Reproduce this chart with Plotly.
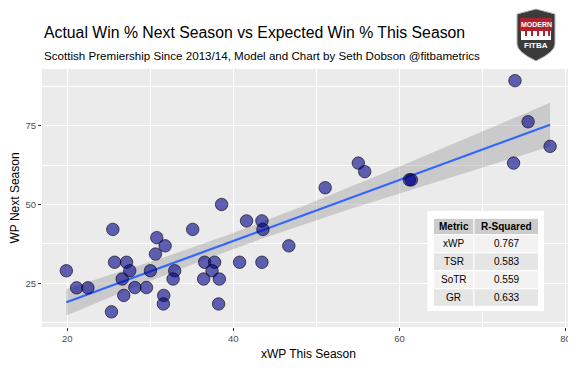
import numpy as np
import plotly.graph_objects as go

# ---------------- data ----------------
xwp_this = [19.88, 21.12, 22.48, 25.48, 25.32, 25.69, 27.13, 27.52, 26.61, 26.80,
            28.13, 29.53, 30.01, 30.62, 30.77, 31.78, 31.61, 31.57, 32.93, 32.74,
            35.10, 36.42, 36.54, 37.74, 37.43, 38.31, 38.22, 38.58, 40.75, 41.59,
            43.44, 43.56, 43.44, 46.68, 51.06, 55.05, 55.82, 61.20, 61.44, 73.92,
            75.50, 78.15, 73.75]
wp_next = [29.0, 23.6, 23.6, 42.1, 16.0, 31.7, 31.7, 29.0, 26.4, 21.2,
           23.7, 23.7, 29.0, 34.3, 39.5, 36.9, 21.2, 18.5, 29.0, 26.4,
           42.1, 26.4, 31.7, 31.7, 29.0, 26.4, 18.5, 50.0, 31.7, 44.8,
           44.8, 42.1, 31.7, 36.9, 55.3, 63.1, 60.4, 57.8, 57.8, 89.2,
           76.2, 68.4, 63.1]

metrics = ["xWP", "TSR", "SoTR", "GR"]
r_squared = ["0.767", "0.583", "0.559", "0.633"]

title_text = "Actual Win % Next Season vs Expected Win % This Season"
subtitle_text = "Scottish Premiership Since 2013/14, Model and Chart by Seth Dobson @fitbametrics"

# ---------------- linear fit + 95% CI ----------------
x = np.array(xwp_this)
y = np.array(wp_next)
n = len(x)
b1, b0 = np.polyfit(x, y, 1)
resid = y - (b0 + b1 * x)
s = np.sqrt(np.sum(resid ** 2) / (n - 2))
xbar = x.mean()
sxx = np.sum((x - xbar) ** 2)
t_crit = 2.02
xg = np.linspace(x.min(), x.max(), 80)
yg = b0 + b1 * xg
se = s * np.sqrt(1.0 / n + (xg - xbar) ** 2 / sxx)
lo = yg - t_crit * se
hi = yg + t_crit * se

# ---------------- layout geometry ----------------
# the page body has an 8px margin, so the figure is drawn offset by 8px
OFF = 8
W, H = 576 - OFF, 384 - OFF
ML, MR, MT, MB = 42 - OFF, 1, 69 - OFF, 57


def px(xp):
    return (xp - OFF - ML) / (W - ML - MR)


def py(yp):
    return (H - MB - (yp - OFF)) / (H - MT - MB)


FONT = "Liberation Sans, Arial, Helvetica, sans-serif"

fig = go.Figure()

fig.add_trace(go.Scatter(
    x=np.concatenate([xg, xg[::-1]]), y=np.concatenate([hi, lo[::-1]]),
    fill="toself", fillcolor="rgba(153,153,153,0.4)", line=dict(width=0),
    mode="lines", hoverinfo="skip", showlegend=False))
fig.add_trace(go.Scatter(
    x=xg, y=yg, mode="lines", line=dict(color="#3366FF", width=2.2),
    showlegend=False))
fig.add_trace(go.Scatter(
    x=xwp_this, y=wp_next, mode="markers",
    marker=dict(size=12.5, color="rgba(0,0,139,0.6)",
                line=dict(color="rgba(0,0,0,0.6)", width=1)),
    showlegend=False))

shapes = []
annotations = []

# ---------------- table ----------------
shapes.append(dict(type="rect", xref="paper", yref="paper",
                   x0=px(427.5), x1=px(544), y0=py(311), y1=py(211),
                   fillcolor="white", line=dict(width=0), layer="above"))
col_x = [433.5, 474, 538.5]
row_y = [218.3, 234.8, 252.8, 270.8, 288.8, 306.3]
for r in range(5):
    fill = "#CCCCCC" if r == 0 else ("#F2F2F2" if r % 2 == 1 else "#E5E5E5")
    for c in range(2):
        shapes.append(dict(type="rect", xref="paper", yref="paper",
                           x0=px(col_x[c]), x1=px(col_x[c + 1]),
                           y0=py(row_y[r + 1]), y1=py(row_y[r]),
                           fillcolor=fill, line=dict(color="white", width=1),
                           layer="above"))
header = ["<b>Metric</b>", "<b>R-Squared</b>"]
rows = [header] + [[m, v] for m, v in zip(metrics, r_squared)]
for r, row in enumerate(rows):
    yc = (row_y[r] + row_y[r + 1]) / 2
    for c, txt in enumerate(row):
        xc = (col_x[c] + col_x[c + 1]) / 2
        annotations.append(dict(text=txt, x=px(xc), y=py(yc), xref="paper", yref="paper",
                                showarrow=False, xanchor="center", yanchor="middle",
                                font=dict(size=10, color="black", family=FONT)))

# ---------------- titles ----------------
annotations.append(dict(text=title_text, x=px(42), y=py(33), xref="paper", yref="paper",
                        showarrow=False, xanchor="left", yanchor="middle", align="left",
                        font=dict(size=15.8, color="black", family=FONT)))
annotations.append(dict(text=subtitle_text, x=px(42), y=py(56), xref="paper", yref="paper",
                        showarrow=False, xanchor="left", yanchor="middle", align="left",
                        font=dict(size=11.6, color="black", family=FONT)))

# ---------------- logo ----------------
def P(xx, yy):
    return f"{px(xx):.5f},{py(yy):.5f}"

shield = (f"M {P(517,14)} L {P(536,9)} L {P(555,14)} L {P(555,44)} "
          f"Q {P(555,52)} {P(536,61)} Q {P(517,52)} {P(517,44)} Z")
shapes.append(dict(type="path", xref="paper", yref="paper", path=shield,
                   fillcolor="#3b3b3b", line=dict(color="#bdbdbd", width=1)))
shapes.append(dict(type="rect", xref="paper", yref="paper",
                   x0=px(520), x1=px(552), y0=py(32), y1=py(18),
                   fillcolor="#b0212e", line=dict(width=0)))
shapes.append(dict(type="rect", xref="paper", yref="paper",
                   x0=px(521), x1=px(551), y0=py(40), y1=py(31),
                   fillcolor="white", line=dict(width=0)))
for bx in [525, 531, 537, 543, 548]:
    shapes.append(dict(type="rect", xref="paper", yref="paper",
                       x0=px(bx), x1=px(bx + 2), y0=py(36), y1=py(31),
                       fillcolor="#b0212e", line=dict(width=0)))
annotations.append(dict(text="<b>MODERN</b>", x=px(536), y=py(25), xref="paper", yref="paper",
                        showarrow=False, xanchor="center", yanchor="middle",
                        font=dict(size=7, color="white", family=FONT)))
annotations.append(dict(text="<b>FITBA</b>", x=px(536), y=py(45), xref="paper", yref="paper",
                        showarrow=False, xanchor="center", yanchor="middle",
                        font=dict(size=8, color="white", family=FONT)))

fig.update_layout(
    width=W, height=H,
    margin=dict(l=ML, r=MR, t=MT, b=MB),
    paper_bgcolor="white", plot_bgcolor="#EBEBEB",
    shapes=shapes, annotations=annotations,
    showlegend=False,
    xaxis=dict(range=[16.95, 81.15], tick0=0, dtick=20, automargin=False,
               showgrid=True, gridcolor="white", gridwidth=1.1, zeroline=False,
               minor=dict(dtick=10, tick0=0, showgrid=True, gridcolor="white", gridwidth=0.5),
               ticks="outside", ticklen=3, tickcolor="#333333",
               tickfont=dict(size=9.5, color="#4D4D4D", family=FONT),
               title=dict(text="xWP This Season", standoff=6,
                          font=dict(size=12, color="black", family=FONT))),
    yaxis=dict(range=[11.2, 92.9], tick0=0, dtick=25, automargin=False,
               showgrid=True, gridcolor="white", gridwidth=1.1, zeroline=False,
               minor=dict(dtick=12.5, tick0=0, showgrid=True, gridcolor="white", gridwidth=0.5),
               ticks="outside", ticklen=3, tickcolor="#333333",
               tickfont=dict(size=9.5, color="#4D4D4D", family=FONT),
               title=dict(text="WP Next Season", standoff=6,
                          font=dict(size=12, color="black", family=FONT))),
)

fig.write_html("out.html")
